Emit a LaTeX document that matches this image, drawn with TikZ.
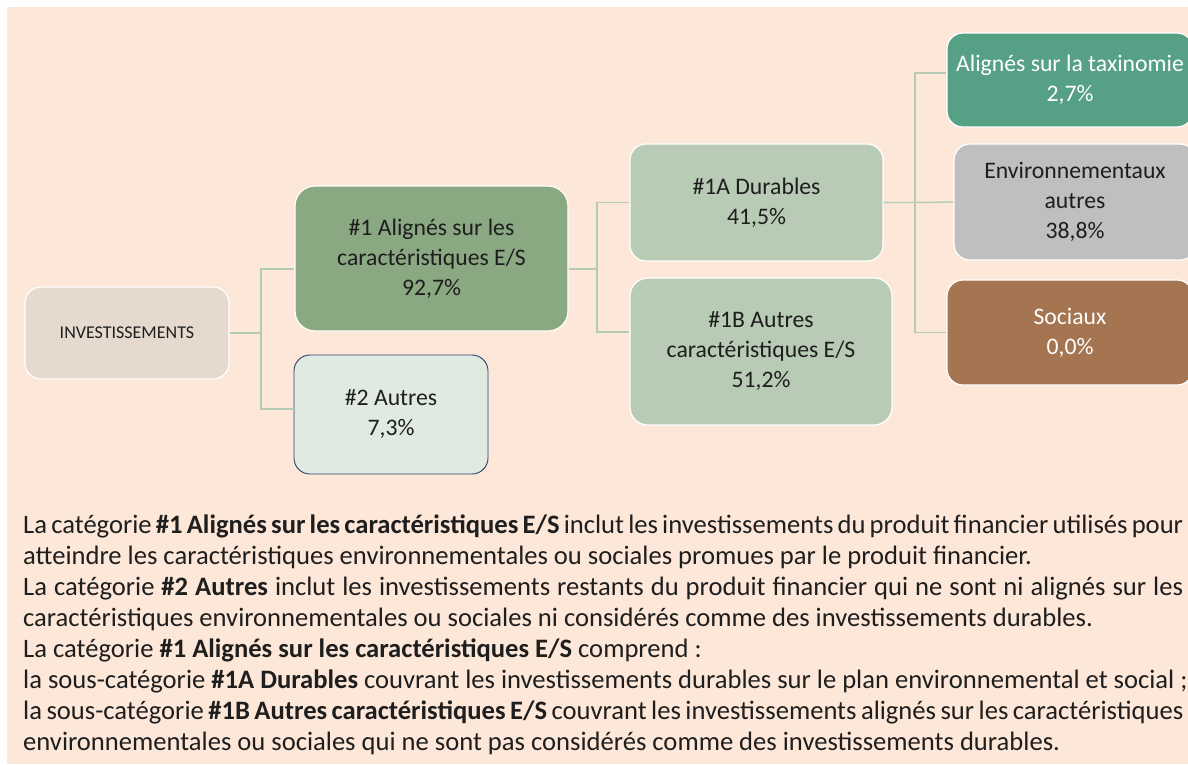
\documentclass[tikz,border=0pt]{standalone}
\usepackage{fontspec}
\setmainfont{Carlito}
\definecolor{bgc}{RGB}{253,231,216}
\definecolor{invc}{RGB}{230,217,205}
\definecolor{aonec}{RGB}{138,168,130}
\definecolor{atwoc}{RGB}{224,234,225}
\definecolor{navyc}{RGB}{47,63,111}
\definecolor{subc}{RGB}{184,203,180}
\definecolor{taxc}{RGB}{86,161,133}
\definecolor{envc}{RGB}{191,191,191}
\definecolor{socc}{RGB}{165,116,80}
\definecolor{connc}{RGB}{181,203,181}
\definecolor{txtdark}{RGB}{30,30,30}
\begin{document}
\begin{tikzpicture}[x=1pt,y=-1pt,
  box/.style={draw=white, line width=1.2pt, rounded corners=16pt, align=center, inner sep=0pt,
    font=\fontsize{23.7}{30}\selectfont, text=txtdark},
  conn/.style={draw=connc, line width=1.4pt},
  para/.style={anchor=base west, inner sep=0pt, font=\fontsize{26.6}{31}\selectfont, text=txtdark}]
\useasboundingbox (0,0) rectangle (1188,764);
\clip (0,0) rectangle (1188,764);
\fill[white] (0,0) rectangle (1188,764);
\fill[bgc] (7,7) rectangle (1188,764);

% boxes
\node[box, fill=invc, minimum width=204pt, minimum height=92pt, font=\fontsize{18}{22}\selectfont] (inv) at (127,333) {INVESTISSEMENTS};
\node[box, fill=aonec, minimum width=273pt, minimum height=145pt, rounded corners=20pt] (a1) at (431.5,258.5) {\#1 Alignés sur les\\caractéristiques E/S\\92,7\%};
\node[box, fill=atwoc, draw=navyc, line width=0.9pt, minimum width=194pt, minimum height=119pt] (a2) at (391,414.5) {\#2 Autres\\7,3\%};
\node[box, fill=subc, minimum width=253pt, minimum height=117pt] (a1A) at (756.5,202.5) {\#1A Durables\\41,5\%};
\node[box, fill=subc, minimum width=262pt, minimum height=147pt, rounded corners=18pt] (a1B) at (761,351.5) {\#1B Autres\\caractéristiques E/S\\51,2\%};
\node[box, fill=taxc, text=white, minimum width=246pt, minimum height=94pt] (tax) at (1070,80) {Alignés sur la taxinomie\\2,7\%};
\node[box, fill=envc, minimum width=242pt, minimum height=116pt] (env) at (1075,202) {Environnementaux\\autres\\38,8\%};
\node[box, fill=socc, text=white, minimum width=246pt, minimum height=105pt] (soc) at (1070,332.5) {Sociaux\\0,0\%};

% connectors
\coordinate (j1) at (261,333);
\coordinate (j2) at (597,269);
\coordinate (j3) at (915,202.5);
\draw[conn] (inv.east) -- (j1);
\draw[conn] ([yshift=-10.5pt]a1.west) -| (j1) |- ([yshift=5.5pt]a2.west);
\draw[conn] ([yshift=-10.5pt]a1.east) -- (j2);
\draw[conn] (a1A.west) -| (j2) |- ([yshift=19.5pt]a1B.west);
\draw[conn] (a1A.east) -- (j3) -- (env.west);
\draw[conn] ([yshift=7pt]tax.west) -| (j3) |- (soc.west);

% paragraph
\node[para] (l1) at (23,533) {\makebox[1160pt][s]{La catégorie \textbf{\#1 Alignés sur les caractéristiques E/S} inclut les investissements du produit financier utilisés pour}};
\node[para] (l2) at (23,564) {atteindre les caractéristiques environnementales ou sociales promues par le produit financier.};
\node[para] (l3) at (23,595) {\makebox[1160pt][s]{La catégorie \textbf{\#2 Autres} inclut les investissements restants du produit financier qui ne sont ni alignés sur les}};
\node[para] (l4) at (23,626) {caractéristiques environnementales ou sociales ni considérés comme des investissements durables.};
\node[para] (l5) at (23,657) {La catégorie \textbf{\#1 Alignés sur les caractéristiques E/S} comprend :};
\node[para] (l6) at (23,688) {la sous-catégorie \textbf{\#1A Durables} couvrant les investissements durables sur le plan environnemental et social ;};
\node[para] (l7) at (23,719) {\makebox[1160pt][s]{la sous-catégorie \textbf{\#1B Autres caractéristiques E/S} couvrant les investissements alignés sur les caractéristiques}};
\node[para] (l8) at (23,750) {environnementales ou sociales qui ne sont pas considérés comme des investissements durables.};
\end{tikzpicture}
\end{document}
